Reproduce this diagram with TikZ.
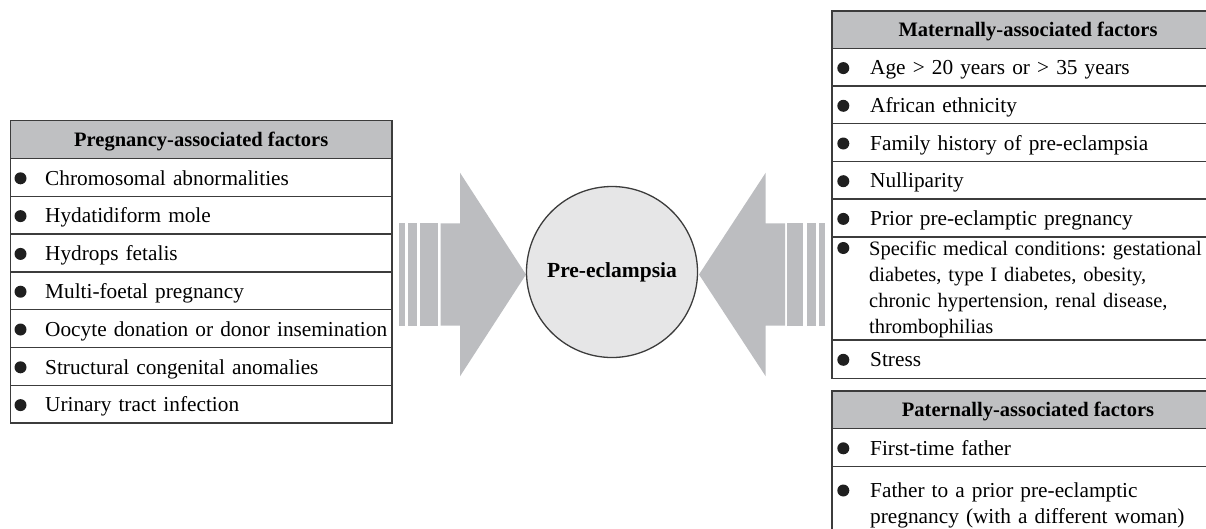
\documentclass[tikz,border=0pt]{standalone}
\usepackage{fontspec}
\setmainfont{Liberation Serif}
\frenchspacing
\definecolor{hdrgray}{HTML}{BFC0C2}
\definecolor{arrgray}{HTML}{BCBDC0}
\definecolor{circgray}{HTML}{E6E6E7}
\definecolor{linegray}{HTML}{3C3C3C}
\tikzset{
  frame/.style={draw=linegray, line width=1.4pt},
  hdrtext/.style={font=\fontsize{20.5}{24}\selectfont\bfseries, inner sep=0pt, anchor=base},
  itemtext/.style={font=\fontsize{21.3}{26}\selectfont\frenchspacing, inner sep=0pt, anchor=base west, text width=420pt, align=left},
  bulletdot/.style={fill=black!88},
  arrowshape/.style={fill=arrgray},
}
\begin{document}
\begin{tikzpicture}[x=1pt,y=-1pt]
\useasboundingbox (0,0) rectangle (1206,528);
\clip (0,0) rectangle (1206,528);

% ---- left block arrow
\fill[arrowshape] (399.3,223.3) rectangle (404.7,325.7);
\fill[arrowshape] (407.7,223.3) rectangle (416.7,325.7);
\fill[arrowshape] (420,223.3) rectangle (437.7,325.7);
\fill[arrowshape] (440.7,223.3) -- (460,223.3) -- (460,172.7) -- (526,274.5)
  -- (460,376.3) -- (460,325.7) -- (440.7,325.7) -- cycle;

% ---- right block arrow
\fill[arrowshape] (819.3,223.3) rectangle (825,325.7);
\fill[arrowshape] (807.3,223.3) rectangle (816,325.7);
\fill[arrowshape] (787.3,223.3) rectangle (803.3,325.7);
\fill[arrowshape] (785,223.3) -- (765.7,223.3) -- (765.7,172.7) -- (699,274.5)
  -- (765.7,376.3) -- (765.7,325.7) -- (785,325.7) -- cycle;

% ---- centre
\node[circle, draw=linegray, line width=1.3pt, fill=circgray, minimum size=171pt,
  inner sep=0pt, font=\fontsize{21.5}{24}\selectfont\bfseries] (pe) at (612,272) {Pre-eclampsia};

% ---- left box: pregnancy-associated factors
\fill[hdrgray] (10.5,120.7) rectangle (392,158.5);
\draw[frame] (10.5,120.7) rectangle (392,423.1);
\foreach \yy in {158.5,196.3,234.1,271.9,309.7,347.5,385.3}
  \draw[frame] (10.5,\yy) -- (392,\yy);
\node[hdrtext] (hL) at (201.25,146.4) {Pregnancy-associated factors};
\foreach \yy in {178.3,216.1,253.9,291.7,329.5,367.3,405.1}
  \fill[bulletdot] (20.5,\yy) circle (6);
\node[itemtext] (l1) at (45,185) {Chromosomal abnormalities};
\node[itemtext] (l2) at (45,222.8) {Hydatidiform mole};
\node[itemtext] (l3) at (45,260.6) {Hydrops fetalis};
\node[itemtext] (l4) at (45,298.4) {Multi-foetal pregnancy};
\node[itemtext] (l5) at (45,336.2) {Oocyte donation or donor insemination};
\node[itemtext] (l6) at (45,374) {Structural congenital anomalies};
\node[itemtext] (l7) at (45,411.8) {Urinary tract infection};

% ---- right box: maternally-associated factors
\fill[hdrgray] (832,11) rectangle (1230,48.3);
\draw[frame] (1230,11) -- (832,11) -- (832,378.5) -- (1230,378.5);
\foreach \yy in {48.3,86,123.7,161.4,199.1,236.8,340}
  \draw[frame] (832,\yy) -- (1230,\yy);
\node[hdrtext] (hM) at (1028,36.6) {Maternally-associated factors};
\foreach \yy in {68.1,105.8,143.5,181.2,218.9,248,359.8}
  \fill[bulletdot] (843.3,\yy) circle (6);
\node[itemtext] (m1) at (870,74.8) {Age > 20 years or > 35 years};
\node[itemtext] (m2) at (870,112.5) {African ethnicity};
\node[itemtext] (m3) at (870,150.2) {Family history of pre-eclampsia};
\node[itemtext] (m4) at (870,187.9) {Nulliparity};
\node[itemtext] (m5) at (870,225.6) {Prior pre-eclamptic pregnancy};
\node[itemtext, font=\fontsize{20.5}{26}\selectfont\frenchspacing] (m6) at (869,255.5) {Specific medical conditions: gestational\\diabetes, type I diabetes, obesity,\\chronic hypertension, renal disease,\\thrombophilias};
\node[itemtext] (m7) at (870,366.5) {Stress};

% ---- right box: paternally-associated factors
\fill[hdrgray] (832,391) rectangle (1230,428.5);
\draw[frame] (1230,391) -- (832,391) -- (832,540);
\foreach \yy in {428.5,466.2}
  \draw[frame] (832,\yy) -- (1230,\yy);
\node[hdrtext] (hP) at (1028,416.7) {Paternally-associated factors};
\foreach \yy in {448.3,490.5}
  \fill[bulletdot] (843.3,\yy) circle (6);
\node[itemtext] (p1) at (870,455) {First-time father};
\node[itemtext] (p2) at (870,497.5) {Father to a prior pre-eclamptic\\pregnancy (with a different woman)};
\end{tikzpicture}
\end{document}
